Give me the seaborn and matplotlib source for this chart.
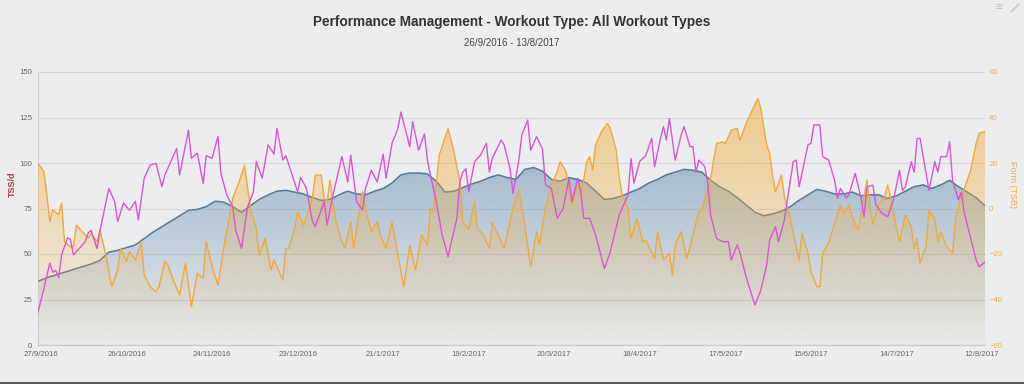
import numpy as np
import pandas as pd
import seaborn as sns
import matplotlib
matplotlib.use('Agg')
import matplotlib.pyplot as plt
import matplotlib.dates as mdates
from matplotlib.colors import to_rgb

# --- data (day offsets from 26/9/2016) ---
start = pd.Timestamp('2016-09-26')
end = pd.Timestamp('2017-08-13')

ctl_days = list(range(0, 322, 3))
ctl_vals = [35, 37, 38.5, 40, 41.5, 43, 44.5, 46.5, 51, 52,
            53.5, 55, 58.5, 62, 65, 68, 71, 74, 74.5, 76,
            79, 78.5, 76, 73, 76.5, 80, 82.5, 84.5, 85, 84,
            83, 81, 79.5, 80, 82.5, 84.5, 83, 82.5, 84.5, 86,
            89, 93.5, 94.5, 94.5, 94, 90, 84, 84.5, 86.5, 88.5,
            90, 92, 93.5, 92, 91, 96.5, 97.5, 95.5, 91, 90,
            92, 91, 89, 84.5, 80, 80.5, 82, 84, 86, 89,
            91, 93.5, 95, 96.5, 96, 95, 90.5, 87, 84.5, 81,
            77, 73, 71, 72, 73.5, 76, 79.5, 82.5, 85.5, 84.5,
            83, 83, 84, 82, 82.5, 82.5, 80.5, 82, 84.5, 87,
            88, 86, 88, 90.5, 87, 84, 81, 76.5]

atl_days = [0, 2, 4, 5, 6, 7, 8, 10, 11, 12, 14, 16, 17, 18, 20, 21, 24, 26, 27, 29,
            31, 33, 34, 36, 38, 40, 42, 43, 47, 48, 51, 52, 54, 56, 57, 59, 61, 62, 64, 66,
            67, 69, 71, 73, 74, 76, 78, 80, 81, 83, 84, 88, 89, 91, 93, 94, 97, 98, 100, 103,
            105, 106, 108, 110, 111, 113, 115, 117, 118, 120, 122, 123, 126, 127, 129, 131, 132, 133, 135, 137,
            139, 140, 142, 143, 144, 145, 146, 148, 150, 152, 153, 154, 157, 158, 160, 161, 163, 164, 166, 167,
            169, 171, 172, 174, 176, 178, 180, 181, 183, 184, 185, 187, 189, 192, 194, 197, 200, 201, 202, 204,
            206, 208, 209, 211, 212, 213, 214, 216, 218, 219, 221, 222, 223, 224, 226, 227, 228, 230, 232, 234,
            235, 237, 238, 240, 243, 245, 247, 248, 250, 251, 253, 254, 256, 257, 258, 261, 262, 263, 265, 266,
            268, 270, 271, 272, 274, 275, 277, 279, 280, 281, 283, 284, 286, 288, 290, 292, 293, 294, 296, 297,
            298, 299, 301, 302, 304, 305, 306, 308, 309, 310, 312, 313, 314, 316, 318, 319, 321]
atl_vals = [18, 31, 45, 40, 41, 37, 49.5, 58.8, 58, 49.5, 53, 56.8, 61.5, 63, 53, 62.6, 86, 78.8, 67.8, 78,
            74, 79, 68.7, 91.6, 98.9, 99.8, 87, 93.4, 108, 93.4, 118, 102.6, 105.4, 88.8, 104, 102.6, 114.5, 94.3, 82.4, 76,
            63, 53, 75.8, 84, 100.7, 91.6, 110, 104.9, 119, 101.6, 104, 84.2, 92, 86, 67.8, 65, 78.8, 66, 82.4, 103.5,
            89.6, 104.4, 78.8, 74, 86, 96, 89.6, 104.9, 91.6, 110.8, 119, 128, 109, 122.7, 107, 116, 101.6, 93.4, 78.8, 60.4,
            48.5, 55.9, 69.6, 89.6, 95, 96.9, 84.2, 100.7, 104.4, 110.8, 95, 102.6, 112.6, 110, 96.9, 83.3, 101.6, 115.4, 123.6, 107,
            114.5, 107.7, 88, 86, 69.6, 75, 91.6, 78.8, 91.6, 84, 69.6, 69.6, 60.4, 42, 51.3, 71.4, 82.4, 102.6, 89, 101,
            104, 113.5, 98, 113.5, 120, 112.6, 124.5, 101.6, 115.4, 120, 109, 109, 95, 101.6, 98, 89, 71.4, 58.6, 56.8, 56.8,
            46.7, 55, 50.4, 37.5, 22, 30, 44, 57.7, 65, 56.8, 68.7, 79.7, 100.7, 101.6, 86.9, 110, 110.8, 120.9, 120.9, 103.5,
            101.6, 90.6, 80.6, 86, 80.6, 83.3, 94.3, 80.6, 70.5, 86.9, 87.8, 77, 72.5, 70.5, 79.7, 96, 85, 86.9, 100.7, 95,
            113.5, 113.5, 94.3, 85, 100.7, 95, 103.5, 103.5, 111.7, 90.6, 79.7, 84, 72.5, 59.5, 46.7, 43, 45.6]

tsb_days = [0, 2, 3, 4, 5, 7, 8, 9, 11, 12, 13, 15, 17, 18, 20, 21, 23, 25, 27, 28,
            30, 31, 33, 35, 36, 38, 40, 41, 43, 44, 46, 48, 50, 52, 54, 56, 57, 59, 61, 63,
            65, 66, 68, 70, 72, 74, 75, 77, 79, 80, 83, 84, 85, 87, 88, 90, 92, 93, 94, 96,
            97, 98, 99, 100, 101, 103, 104, 106, 107, 109, 110, 111, 113, 115, 116, 118, 120, 122, 124, 126,
            128, 130, 132, 133, 134, 136, 139, 141, 143, 144, 146, 148, 149, 151, 153, 154, 156, 158, 159, 161,
            163, 165, 167, 169, 170, 172, 174, 176, 177, 179, 180, 181, 183, 184, 186, 187, 188, 189, 191, 193,
            194, 196, 197, 198, 200, 201, 203, 205, 206, 209, 210, 212, 214, 215, 216, 218, 220, 222, 224, 225,
            227, 228, 229, 230, 232, 233, 235, 237, 238, 240, 244, 245, 247, 248, 249, 250, 252, 253, 255, 257,
            258, 259, 261, 262, 264, 265, 266, 268, 270, 272, 273, 275, 276, 278, 279, 281, 282, 283, 285, 287,
            288, 289, 290, 292, 294, 296, 297, 298, 299, 301, 302, 304, 305, 306, 308, 310, 311, 313, 315, 316,
            318, 319, 321]
tsb_vals = [19.9, 16.2, 5.9, -5.8, -0.7, -2.7, 2.3, -14.6, -16.8, -16.8, -7.3, -10.2, -13.1, -11, -14.6, -9.5, -20.4, -34.4, -27, -17.5,
            -23.3, -19, -22.6, -14.6, -29.2, -34.4, -36.6, -34.4, -23.3, -24.8, -32, -38, -24, -43.2, -28.5, -30.7, -14.6, -25.5, -33.7, -16.8,
            -2.9, 4.5, 11.1, 19.1, 0.1, -8.7, -20.4, -13.1, -27, -22.6, -31.4, -17.5, -17.5, -8.7, -1.4, -7.3, 0.1, 4.5, 14.7, 14.7,
            4.5, 3, 12.5, 3, -5.8, -14.6, -17.5, -5.8, -17.5, 0.1, 7.4, 0.1, -10.2, -5.8, -11.6, -17.5, -5.8, -20.4, -34.4, -16,
            -27, -11.6, -16, 0.1, -1.4, 23.5, 35.2, 25, 11.8, -6.1, -9, 3, -8.7, -11.6, -17.5, -6.1, -11.6, -17.5, -11.6, 0.1,
            8.1, -7.3, -25.6, -10.2, -16, 0.1, 10.3, 16.2, 20.6, 16.2, 8.9, 1.5, 11.8, 5.2, 20.6, 22.8, 17, 27.9, 33.8, 37.4,
            35.2, 25.7, 14, 5.9, 0.1, -13.1, -4.4, -14.6, -13.9, -22, -10.2, -22.6, -19.6, -29.2, -16, -10.2, -22, -11.6, -1.4, -0.7,
            8.1, 13.2, 21.3, 28.6, 29.3, 28.6, 34.5, 35.2, 30, 37.4, 48.4, 44, 27.9, 24.2, 14.7, 7.4, 14.7, 5.2, -4.3, -16.8,
            -22.6, -10.9, -19.6, -27.8, -34.4, -34.4, -19.6, -15.2, -6.5, 1.5, -2.2, 1.5, -3.6, -9.5, -2.2, 12.5, 0.4, -6.9, 1.9, 5.2,
            10.3, 5.2, -2.2, -14.6, -2.9, -8, -17.5, -13.1, -24.1, -16.8, -0.7, -4.3, -14.6, -10.2, -16.8, -19.6, -4.3, 5.2, 12.5, 16.2,
            28.6, 33.1, 33.8]

tick_days = [1, 30, 59, 88, 117, 146, 175, 204, 233, 262, 291, 320]

title = 'Performance Management - Workout Type: All Workout Types'
subtitle = '26/9/2016 - 13/8/2017'

bg = '#ecedee'
ctl_line = '#557a96'
ctl_fill = '#5f89ae'
atl_color = '#da55d2'
tsb_color = '#f0a93a'
tsb_fill = '#f2b040'


def to_dates(days):
    return start + pd.to_timedelta(np.array(days), unit='D')


def gradient_area(ax, dates, vals, base, color, a_top, zorder):
    # highcharts-like area: colour fading towards the bottom of the plot
    coll = ax.fill_between(dates, vals, base, facecolor='none', edgecolor='none')
    path = coll.get_paths()[0]
    x0, x1 = ax.get_xlim()
    y0, y1 = ax.get_ylim()
    grad = np.zeros((256, 1, 4))
    grad[:, :, :3] = to_rgb(color)
    grad[:, 0, 3] = np.linspace(a_top, 0.02, 256)
    im = ax.imshow(grad, extent=[x0, x1, y0, y1], aspect='auto', origin='upper',
                   interpolation='bilinear', zorder=zorder)
    im.set_clip_path(path, transform=ax.transData)
    ax.set_xlim(x0, x1)
    ax.set_ylim(y0, y1)


sns.set_style('white', {'axes.facecolor': bg, 'figure.facecolor': bg})
plt.rcParams['font.family'] = ['Liberation Sans', 'DejaVu Sans']

fig = plt.figure(figsize=(10.24, 3.84), dpi=100)
fig.patch.set_facecolor(bg)
ax = fig.add_axes([38 / 1024, 1 - 345 / 384, 947 / 1024, 273 / 384])
ax.set_facecolor(bg)

ctl_dates = to_dates(ctl_days)
atl_dates = to_dates(atl_days)
tsb_dates = to_dates(tsb_days)

# left axis: fitness (CTL)
ax.set_xlim(start, end)
ax.set_ylim(0, 150)
gradient_area(ax, ctl_dates, ctl_vals, 0, ctl_fill, 0.75, 1)
sns.lineplot(x=ctl_dates, y=ctl_vals, ax=ax, color=ctl_line, lw=1.1, zorder=3)

ax.set_yticks([0, 25, 50, 75, 100, 125, 150])
ax.yaxis.grid(True, color='#d6d7d8', lw=0.8)
ax.xaxis.grid(False)
ax.set_axisbelow(True)
ax.set_xticks(to_dates(tick_days))
ax.set_xticklabels([f'{d.day}/{d.month}/{d.year}' for d in to_dates(tick_days)])
ax.tick_params(axis='both', length=0, labelsize=5.6, labelcolor='#666666')
ax.tick_params(axis='x', pad=4)
ax.tick_params(axis='y', pad=4)
for s in ['top', 'right']:
    ax.spines[s].set_visible(False)
ax.spines['bottom'].set_color('#c8c9ca')
ax.spines['left'].set_color('#d0d1d2')
ax.spines['bottom'].set_linewidth(0.9)
ax.spines['left'].set_linewidth(0.8)
ax.set_xlabel('')
ax.set_ylabel('')

# right axis: form (TSB)
ax2 = ax.twinx()
ax2.set_ylim(-60, 60)
ax2.set_xlim(start, end)
gradient_area(ax2, tsb_dates, tsb_vals, -60, tsb_fill, 0.62, 1)
sns.lineplot(x=tsb_dates, y=tsb_vals, ax=ax2, color=tsb_color, lw=1.0, zorder=3)
ax2.set_yticks([-60, -40, -20, 0, 20, 40, 60])
ax2.tick_params(axis='y', length=0, labelsize=5.6, labelcolor='#f0ac48', pad=3)
for s in ax2.spines.values():
    s.set_visible(False)
ax2.set_ylabel('')

# fatigue (ATL) line on top
ax3 = ax.twinx()
ax3.set_ylim(0, 150)
ax3.set_xlim(start, end)
sns.lineplot(x=atl_dates, y=atl_vals, ax=ax3, color=atl_color, lw=1.0)
ax3.set_axis_off()

fig.text(0.5, 1 - 22 / 384, title, ha='center', va='center', fontsize=9.8,
         weight='bold', color='#333333')
fig.text(0.5, 1 - 43 / 384, subtitle, ha='center', va='center', fontsize=7,
         color='#444444')
fig.text(12 / 1024, 1 - 184 / 384, 'TSS/d', rotation=90, ha='center', va='center',
         fontsize=6.5, weight='bold', color='#b83a3a')
fig.text(1012 / 1024, 1 - 185 / 384, 'Form (TSB)', rotation=270, ha='center', va='center',
         fontsize=6.5, color='#f0ac48')
# export menu icons (the diagonal "full screen" arrow has no glyph, so draw it)
fig.text(999 / 1024, 1 - 8 / 384, '\u2261', ha='center', va='center', fontsize=9,
         color='#c4c4c4')
fig.add_artist(plt.Line2D([1011 / 1024, 1019 / 1024], [1 - 12 / 384, 1 - 4 / 384],
                          transform=fig.transFigure, color='#c4c4c4', lw=1.0))
fig.add_artist(plt.Line2D([0, 1], [0.002, 0.002], transform=fig.transFigure,
                          color='#5a5a5a', lw=1.5))

fig.savefig('out.png', dpi=100, facecolor=bg)
